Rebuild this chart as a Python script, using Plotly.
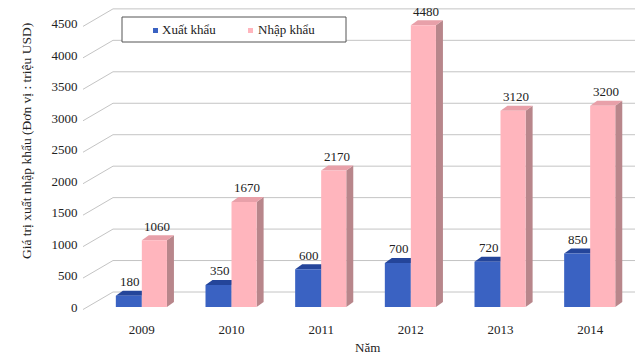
import plotly.graph_objects as go

years = ["2009", "2010", "2011", "2012", "2013", "2014"]
xuat_khau = [180, 350, 600, 700, 720, 850]
nhap_khau = [1060, 1670, 2170, 4480, 3120, 3200]
y_ticks = [0, 500, 1000, 1500, 2000, 2500, 3000, 3500, 4000, 4500]
series_names = ["Xuất khẩu", "Nhập khẩu"]

W, H = 639, 355
L, R, T, B = 97, 4, 5, 48
YMAX = 4800
plot_w = W - L - R
plot_h = H - T - B
px_per_unit = plot_h / YMAX
px_per_cat = plot_w / len(years)

DX = 7 / px_per_cat
DY = 5 / px_per_unit
BACK = 15 / px_per_unit

blue, blue_top = "#3a62c2", "#24459a"
pink, pink_top, pink_side = "#ffb5bd", "#e8a0a9", "#b8868b"

BW_B, BW_P = 0.29, 0.28
xs = list(range(len(years)))
font_s = "Liberation Serif"
txt_col = "#222222"

fig = go.Figure()
fig.add_trace(go.Bar(x=xs, y=xuat_khau, offset=-BW_B, width=BW_B, name=series_names[0],
                     marker=dict(color=blue, line=dict(width=0)), showlegend=False))
fig.add_trace(go.Bar(x=xs, y=nhap_khau, offset=0, width=BW_P, name=series_names[1],
                     marker=dict(color=pink, line=dict(width=0)), showlegend=False))

shapes = []
x_wall = (113 - L) / plot_w
x_diag = (83 - L) / plot_w
for v in y_ticks:
    yb = (v + BACK) / YMAX
    yf = (v - 40) / YMAX
    shapes.append(dict(type="line", xref="paper", yref="paper", x0=x_wall, x1=1.0,
                       y0=yb, y1=yb, line=dict(color="#c4c4c4", width=1), layer="below"))
    shapes.append(dict(type="line", xref="paper", yref="paper", x0=x_diag, x1=x_wall,
                       y0=yf, y1=yb, line=dict(color="#c4c4c4", width=1), layer="below"))

def faces(xc, off, w, v, top_col, side_col):
    x0, x1 = xc + off, xc + off + w
    top = f"M{x0},{v} L{x0+DX},{v+DY} L{x1+DX},{v+DY} L{x1},{v} Z"
    side = f"M{x1},{v} L{x1+DX},{v+DY} L{x1+DX},{DY} L{x1},0 Z"
    return [dict(type="path", xref="x", yref="y", path=side, fillcolor=side_col,
                 line=dict(width=0), layer="below"),
            dict(type="path", xref="x", yref="y", path=top, fillcolor=top_col,
                 line=dict(width=0), layer="below")]

for i, v in enumerate(xuat_khau):
    shapes += faces(i, -BW_B, BW_B, v, blue_top, blue_top)
for i, v in enumerate(nhap_khau):
    shapes += faces(i, 0, BW_P, v, pink_top, pink_side)

def px_x(p):
    return (p - L) / plot_w

def px_y(p):
    return (H - B - p) / plot_h

shapes.append(dict(type="rect", xref="paper", yref="paper",
                   x0=px_x(122), x1=px_x(346), y0=px_y(42), y1=px_y(17),
                   line=dict(color="#555555", width=1), fillcolor="white", layer="below"))
for cx, col in [(155.5, blue), (250.5, pink)]:
    shapes.append(dict(type="rect", xref="paper", yref="paper",
                       x0=px_x(cx - 2.5), x1=px_x(cx + 2.5), y0=px_y(33), y1=px_y(28),
                       line=dict(width=0), fillcolor=col, layer="above"))

annotations = []
for i, v in enumerate(xuat_khau):
    annotations.append(dict(x=i - BW_B / 2, y=v, xref="x", yref="y", text=str(v),
                            showarrow=False, yshift=14, xshift=1,
                            font=dict(family=font_s, size=13, color=txt_col)))
for i, v in enumerate(nhap_khau):
    annotations.append(dict(x=i + BW_P / 2, y=v, xref="x", yref="y", text=str(v),
                            showarrow=False, yshift=14, xshift=3,
                            font=dict(family=font_s, size=13, color=txt_col)))
for tx, name in [(160, series_names[0]), (256, series_names[1])]:
    annotations.append(dict(x=px_x(tx), y=px_y(30), xref="paper", yref="paper", text=name,
                            xanchor="left", yanchor="middle", showarrow=False,
                            font=dict(family=font_s, size=13, color=txt_col)))
annotations.append(dict(x=px_x(26), y=px_y(141), xref="paper", yref="paper",
                        xanchor="center", yanchor="middle",
                        text="Giá trị xuất nhập khẩu (Đơn vị : triệu USD)", textangle=-90,
                        showarrow=False, font=dict(family=font_s, size=13.5, color=txt_col)))
annotations.append(dict(x=px_x(367), y=px_y(347), xref="paper", yref="paper",
                        xanchor="center", yanchor="middle",
                        text="Năm", showarrow=False,
                        font=dict(family=font_s, size=13, color=txt_col)))

fig.update_layout(
    width=W, height=H, margin=dict(l=L, r=R, t=T, b=B),
    paper_bgcolor="white", plot_bgcolor="white",
    barmode="overlay", showlegend=False,
    shapes=shapes, annotations=annotations,
    font=dict(family=font_s, size=13, color=txt_col),
    xaxis=dict(range=[-0.5, len(years) - 0.5], tickvals=xs, ticktext=years,
               showgrid=False, zeroline=False, showline=False,
               ticks="outside", ticklen=10, tickcolor="rgba(0,0,0,0)",
               tickfont=dict(family=font_s, size=13, color=txt_col)),
    yaxis=dict(range=[0, YMAX], tickvals=y_ticks, showgrid=False, zeroline=False,
               showline=False, ticks="outside", ticklen=16, tickcolor="rgba(0,0,0,0)",
               tickfont=dict(family=font_s, size=13, color=txt_col)),
)

fig.write_html("out.html")
